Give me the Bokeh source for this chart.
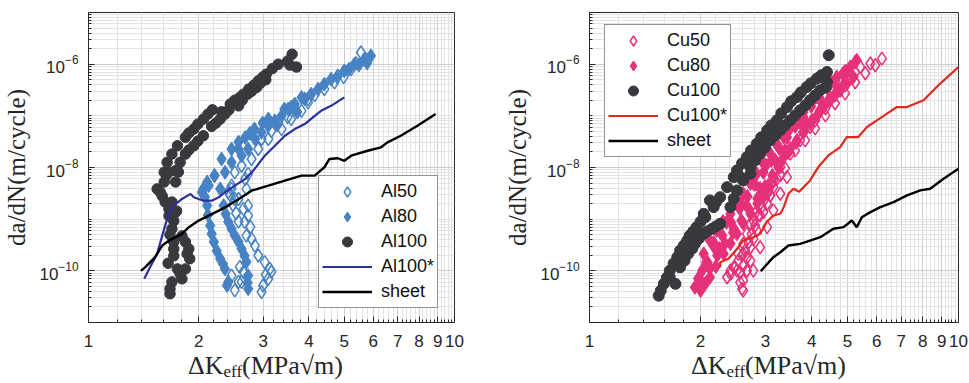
from bokeh.plotting import figure
from bokeh.models import FixedTicker, Legend, LegendItem, Div
from bokeh.layouts import row, column
from bokeh.embed import file_html
from bokeh.resources import INLINE

# ---------------- data : left panel (Al) ----------------
al50_dk = [2.46, 2.57, 2.65, 2.73, 2.67, 2.77, 2.70, 2.79, 2.85, 2.91,
           3.03, 3.13, 3.16, 3.10, 3.05, 3.00, 2.97, 2.46, 2.57, 2.62,
           2.51, 2.59, 2.65, 2.70, 2.73, 2.51, 2.41,
           2.44, 2.48, 2.53, 2.57,
           2.51, 2.62, 2.68, 2.46, 2.73, 2.79,
           2.91, 2.97, 3.10, 3.16, 3.30, 3.37, 3.50, 3.58, 3.66, 3.82,
           3.98, 3.98, 4.15, 4.41, 4.70, 4.80, 4.98, 5.22, 5.38, 5.55, 5.73]
al50_rate = [3.85e-9, 2.46e-9, 1.58e-9, 1.17e-9, 8.85e-10, 7.1e-10, 4.81e-10, 4.15e-10, 3.08e-10, 1.98e-10,
             1.47e-10, 1.09e-10, 9.6e-11, 7.0e-11, 8.4e-11, 5.2e-11, 3.9e-11, 8.1e-11, 6.1e-11, 6.1e-11,
             4.2e-11, 1.19e-10, 9.5e-11, 3.85e-9, 1.83e-9, 2.46e-9, 3.36e-9,
             2.9e-9, 1.9e-9, 1.3e-9, 9.0e-10,
             8.07e-9, 1.08e-8, 6.0e-9, 4.45e-9, 7.5e-9, 1.46e-8,
             2.28e-8, 3.56e-8, 3.56e-8, 5.07e-8, 7.57e-8, 5.55e-8, 9.46e-8, 8.65e-8, 1.35e-7, 1.25e-7,
             1.82e-7, 2.11e-7, 2.51e-7, 3.29e-7, 4.43e-7, 5.94e-7, 5.6e-7, 8.0e-7, 1.05e-6, 1.68e-6, 1.25e-6]

al80_dk = [2.06, 2.08, 2.11, 2.12, 2.15, 2.17, 2.20, 2.24, 2.29, 2.33, 2.36, 2.41, 2.39, 2.11, 2.21,
           2.29, 2.34, 2.37, 2.41, 2.46, 2.51, 2.57, 2.62, 2.67, 2.70, 2.73, 2.72, 2.73,
           2.04, 2.13, 2.21, 2.31, 2.36, 2.46, 2.46, 2.57, 2.57, 2.62, 2.73, 2.68, 2.76,
           2.84, 2.85, 2.97, 2.99, 3.10, 3.10, 3.23, 3.28, 3.37, 3.43,
           3.51, 3.58, 3.66, 3.72, 3.82, 3.90, 4.06, 4.24, 4.41, 4.60,
           4.78, 5.00, 5.15, 5.33, 5.48, 5.67, 5.77, 5.91]
al80_rate = [3.85e-9, 2.69e-9, 1.83e-9, 1.21e-9, 7.5e-10, 5.2e-10, 3.63e-10, 2.43e-10, 1.71e-10, 1.36e-10, 1.09e-10, 6.1e-11, 5.2e-11, 5.25e-9, 7.0e-9,
             3.85e-9, 1.83e-9, 1.26e-9, 8.85e-10, 6.5e-10, 4.81e-10, 3.63e-10, 2.66e-10, 1.95e-10, 1.49e-10, 8.1e-11, 5.9e-11, 4.5e-11,
             3.32e-9, 4.45e-9, 6.95e-9, 1.46e-8, 8.07e-9, 1.26e-8, 2.28e-8, 2.28e-8, 3.11e-8, 1.69e-8, 2.28e-8, 3.8e-8, 4.6e-8,
             5.55e-8, 3.56e-8, 4.79e-8, 7.24e-8, 6.43e-8, 8.65e-8, 8.0e-8, 6.6e-8, 1.0e-7, 1.35e-7,
             1.35e-7, 1.48e-7, 1.69e-7, 1.18e-7, 2.27e-7, 2.11e-7, 2.63e-7, 3.29e-7, 4.11e-7, 5.13e-7,
             5.6e-7, 7.43e-7, 8.0e-7, 1.0e-6, 9.6e-7, 1.25e-6, 1.05e-6, 1.45e-6]

al100_dk = [1.61, 1.64, 1.69, 1.75, 1.84, 1.88, 1.94, 1.99, 2.06, 2.12,
            2.18, 2.31, 2.44, 2.51, 2.59, 2.65, 2.74, 2.83, 2.91, 2.99,
            3.06, 3.18, 3.30, 3.50, 3.60, 3.55, 3.70,
            1.73, 1.78, 1.84, 1.88, 1.94, 1.99, 2.06, 2.17, 2.23, 2.29,
            2.36, 2.42, 2.57, 2.63, 2.72, 2.79, 2.88, 2.95, 3.05,
            1.66, 1.76, 1.63, 1.61, 1.73, 1.57, 1.54, 1.59, 1.62, 1.69,
            1.66, 1.74, 1.66, 1.71, 1.69, 1.67, 1.80, 1.84, 1.71, 1.88,
            1.71, 1.86, 1.71, 1.89, 1.84, 1.75, 1.78, 1.80, 1.69, 1.67,
            1.67, 1.65, 1.72]
al100_rate = [8.1e-9, 1.26e-8, 1.82e-8, 2.64e-8, 3.84e-8, 4.65e-8, 5.55e-8, 6.9e-8, 8.65e-8, 1.08e-7,
              1.31e-7, 1.2e-7, 1.69e-7, 2.01e-7, 2.27e-7, 2.63e-7, 3.29e-7, 3.93e-7, 4.75e-7, 5.6e-7,
              6.41e-7, 8.2e-7, 1.0e-6, 1.15e-6, 1.56e-6, 9.6e-7, 8.8e-7,
              8.7e-9, 1.26e-8, 1.82e-8, 2.18e-8, 2.64e-8, 3.25e-8, 4.12e-8, 6.25e-8, 7.24e-8, 8.65e-8,
              1.08e-7, 1.31e-7, 1.56e-7, 2.01e-7, 2.63e-7, 3.0e-7, 3.55e-7, 4.3e-7, 5.0e-7,
              8.2e-9, 8.2e-9, 7.1e-9, 5.25e-9, 5.25e-9, 3.36e-9, 3.85e-9, 2.81e-9, 2.15e-9, 2.15e-9,
              1.58e-9, 1.44e-9, 1.16e-9, 9.25e-10, 6.5e-10, 5.0e-10, 4.74e-10, 3.63e-10, 3.63e-10, 2.66e-10,
              2.66e-10, 2.13e-10, 1.95e-10, 1.71e-10, 1.09e-10, 1.09e-10, 8.8e-11, 7.0e-11, 6.1e-11, 4.5e-11,
              3.6e-11, 1.4e-10, 1.3e-9]

al100s_dk = [1.42, 1.48, 1.54, 1.59, 1.62, 1.66, 1.71, 1.80, 1.90, 1.94,
             2.06, 2.17, 2.27, 2.36, 2.51, 2.68, 2.82, 3.03, 3.23, 3.44,
             3.66, 3.90, 4.15, 4.32, 4.60, 5.00]
al100s_rate = [7.0e-11, 1.26e-10, 2.13e-10, 4.8e-10, 7.5e-10, 1.36e-9, 1.83e-9, 2.46e-9, 3.08e-9, 2.65e-9,
               2.28e-9, 2.28e-9, 2.65e-9, 3.32e-9, 4.45e-9, 6.0e-9, 8.7e-9, 1.69e-8, 2.64e-8, 4.12e-8,
               5.55e-8, 6.93e-8, 1.0e-7, 1.25e-7, 1.56e-7, 2.27e-7]

al_sheet_dk = [1.39, 1.43, 1.52, 1.59, 1.66, 1.80, 1.88, 2.00, 2.13, 2.27,
               2.41, 2.62, 2.79, 3.10, 3.44, 3.82, 4.15, 4.41, 4.55, 4.80,
               5.00, 5.22, 5.79, 6.30, 6.56, 7.13, 7.92, 8.88]
al_sheet_rate = [1.0e-10, 1.18e-10, 1.84e-10, 3.08e-10, 3.85e-10, 5.2e-10, 7.0e-10, 9.4e-10, 1.17e-9, 1.46e-9,
                 1.83e-9, 2.65e-9, 3.56e-9, 4.45e-9, 5.56e-9, 6.95e-9, 6.95e-9, 1.01e-8, 1.46e-8, 1.51e-8,
                 1.35e-8, 1.69e-8, 2.11e-8, 2.46e-8, 3.07e-8, 4.11e-8, 6.43e-8, 1.08e-7]

# ---------------- data : right panel (Cu) ----------------
cu50_dk = [2.61, 2.59, 2.56, 2.51, 2.41, 2.36, 2.46, 2.53, 2.61, 2.67,
           2.73, 2.81, 2.90, 2.99, 3.12, 3.29,
           2.61, 2.67, 2.73, 2.61, 2.78, 3.03, 3.15, 3.29, 3.50, 3.72,
           3.96, 4.22, 4.49, 4.78, 5.09, 5.42, 5.77, 6.20,
           2.90, 3.09, 3.39, 3.61, 3.84, 4.09, 4.36, 4.63, 4.93, 5.25,
           2.78, 2.90, 3.03, 3.15, 3.29, 3.43,
           2.41, 2.48, 2.56, 2.61, 2.67, 2.53, 2.59, 2.67, 2.64, 2.73,
           2.70, 2.78, 2.75, 2.84, 2.81, 2.87, 2.96, 2.93, 3.03, 2.99,
           3.09, 3.06, 3.15, 3.12, 3.22,
           4.09, 4.36, 4.63, 4.93, 5.25, 5.59, 5.95]
cu50_rate = [4.15e-11, 4.48e-11, 6.0e-11, 1.01e-10, 8.75e-11, 7.5e-11, 1.17e-10, 2.13e-10, 3.33e-10, 5.21e-10,
             8.15e-10, 1.27e-9, 1.99e-9, 3.1e-9, 4.85e-9, 7.03e-9,
             6.49e-11, 1.01e-10, 1.58e-10, 2.13e-10, 9.44e-10, 3.1e-9, 5.62e-9, 1.02e-8, 1.85e-8, 3.35e-8,
             6.07e-8, 1.28e-7, 2.0e-7, 3.12e-7, 5.65e-7, 8.83e-7, 1.03e-6, 1.28e-6,
             1.18e-9, 2.88e-9, 9.6e-9, 2.14e-8, 3.35e-8, 8.18e-8, 1.4e-7, 2.49e-7, 3.9e-7, 6.97e-7,
             1.01e-10, 2.86e-10, 7.0e-10, 1.48e-9, 3.1e-9, 6.52e-9,
             1.01e-10, 1.17e-10, 9.4e-11, 1.27e-10, 1.01e-10, 1.58e-10, 1.98e-10, 1.79e-10, 2.47e-10, 2.86e-10,
             3.58e-10, 4.17e-10, 5.21e-10, 6.04e-10, 7.55e-10, 1.18e-9, 1.37e-9, 1.71e-9, 1.99e-9, 2.48e-9,
             2.88e-9, 3.6e-9, 4.17e-9, 5.21e-9, 6.07e-9,
             5.73e-8, 1.02e-7, 1.75e-7, 2.73e-7, 4.46e-7, 6.67e-7, 9.52e-7]

cu80_dk = [1.93, 2.04, 2.21, 2.41, 2.61, 2.84, 3.09, 3.36, 3.65, 3.96, 4.31, 4.68, 5.09, 5.30,
           2.12, 2.31, 2.51, 2.73, 2.96, 3.15, 3.36, 3.65, 3.96, 4.31, 4.78, 5.19,
           2.02, 2.17, 2.35, 2.56, 2.78, 3.01, 3.25, 3.50, 3.80, 4.11, 4.49, 4.87,
           1.97, 2.09, 2.25, 2.46, 2.66, 2.90, 3.19, 3.39, 3.72, 4.22, 4.66, 5.02,
           2.00, 3.61, 3.88, 3.65, 5.25,
           2.00, 2.07, 2.18, 2.29, 2.42, 2.55, 2.68, 2.81, 2.96, 3.11,
           3.27, 3.43, 3.61, 3.79, 3.99, 4.19, 4.41, 4.63, 4.87,
           2.06, 2.12, 2.22, 2.33, 2.45, 2.58, 2.71, 2.85, 2.99, 3.13,
           3.29, 3.46, 3.63, 3.82, 4.01, 4.22, 4.44, 4.66, 4.93,
           2.12, 2.30, 2.50, 2.73, 2.96, 3.23, 3.50, 3.79, 4.14, 4.49, 4.93,
           2.20, 2.41, 2.61, 2.85, 3.05, 3.25, 3.50, 3.79, 4.14, 4.52, 4.99]
cu80_rate = [4.8e-11, 2.13e-10, 6.04e-10, 1.27e-9, 3.1e-9, 7.59e-9, 1.85e-8, 3.88e-8, 9.48e-8, 2.0e-7, 3.61e-7, 5.65e-7, 8.83e-7, 1.19e-6,
             7.5e-11, 2.13e-10, 5.21e-10, 1.27e-9, 3.1e-9, 6.52e-9, 1.59e-8, 3.35e-8, 7.06e-8, 1.48e-7, 3.12e-7, 5.65e-7,
             1.01e-10, 3.53e-10, 8.63e-10, 2.01e-9, 4.92e-9, 1.1e-8, 2.56e-8, 5.73e-8, 1.17e-7, 2.29e-7, 4.27e-7, 6.67e-7,
             7.1e-11, 1.45e-10, 2.7e-10, 6.6e-10, 1.85e-9, 3.94e-9, 1.37e-8, 2.14e-8, 7.48e-8, 2.0e-7, 3.9e-7, 7.62e-7,
             4.15e-11, 9.48e-8, 7.16e-8, 1.02e-7, 1.1e-6,
             6.49e-11, 1.45e-10, 2.83e-10, 4.83e-10, 8.63e-10, 1.61e-9, 2.75e-9, 4.7e-9, 8.04e-9, 1.37e-8,
             2.34e-8, 3.83e-8, 6.26e-8, 9.77e-8, 1.53e-7, 2.29e-7, 3.41e-7, 4.67e-7, 6.37e-7,
             5.68e-11, 1.11e-10, 1.98e-10, 3.38e-10, 5.52e-10, 9.44e-10, 1.54e-9, 2.52e-9, 4.31e-9, 7.03e-9,
             1.2e-8, 1.96e-8, 3.06e-8, 5.01e-8, 8.18e-8, 1.28e-7, 2.0e-7, 2.85e-7, 4.46e-7,
             3.86e-10, 9.02e-10, 2.01e-9, 4.92e-9, 1.2e-8, 2.68e-8, 5.98e-8, 1.4e-7, 2.73e-7, 4.67e-7, 7.28e-7,
             1.21e-10, 3.38e-10, 8.26e-10, 2.01e-9, 4.5e-9, 1.0e-8, 2.34e-8, 4.79e-8, 1.02e-7, 2.18e-7, 4.27e-7]

cu100_dk = [1.54, 1.56, 1.59, 1.62, 1.65, 1.69, 1.73, 1.76, 1.80, 1.84,
            1.87, 1.91, 1.95, 2.00, 2.06, 2.04, 2.12, 2.17, 2.20, 2.26,
            2.36, 2.46, 2.51, 2.67, 2.74, 2.84, 2.92, 3.03, 3.11, 3.22,
            3.31, 3.43, 3.52, 3.65, 3.74, 3.88, 3.98, 4.13, 4.25, 4.40,
            4.45, 4.40, 2.59,
            1.71, 1.65, 1.76, 1.81, 1.85, 1.90, 1.93, 1.98, 2.04, 2.08,
            2.15, 2.20, 2.26, 2.41, 2.51, 2.56, 2.61, 2.73, 2.73, 2.81,
            2.90, 2.99, 3.09, 3.19, 3.29, 3.39, 3.50, 3.61, 3.72, 3.85,
            3.96, 4.09, 4.22, 4.37, 2.46]
cu100_rate = [3.3e-11, 4.15e-11, 5.6e-11, 7.4e-11, 1.01e-10, 1.39e-10, 1.84e-10, 2.47e-10, 3.09e-10, 3.86e-10,
              4.83e-10, 5.78e-10, 7.0e-10, 9.0e-10, 1.09e-9, 1.27e-9, 2.31e-9, 1.71e-9, 2.11e-9, 2.67e-9,
              4.17e-9, 6.52e-9, 8.8e-9, 1.59e-8, 2.14e-8, 2.89e-8, 3.83e-8, 5.24e-8, 6.55e-8, 8.18e-8,
              1.12e-7, 1.48e-7, 1.91e-7, 2.31e-7, 2.85e-7, 3.61e-7, 4.27e-7, 5.26e-7, 6.1e-7, 7.06e-7,
              1.49e-6, 4.52e-7, 1.2e-8,
              5.6e-11, 7.5e-11, 1.17e-10, 1.58e-10, 2.13e-10, 2.7e-10, 3.33e-10, 4.23e-10, 5.21e-10, 5.78e-10,
              6.52e-10, 7.23e-10, 8.15e-10, 1.71e-9, 3.6e-9, 6.52e-9, 5.62e-9, 7.59e-9, 1.02e-8, 1.37e-8,
              1.85e-8, 2.46e-8, 3.35e-8, 4.19e-8, 5.24e-8, 6.55e-8, 8.18e-8, 1.02e-7, 1.28e-7, 1.6e-7,
              2.0e-7, 2.49e-7, 3.12e-7, 3.56e-7, 2.5e-9]

cu100s_dk = [2.26, 2.26, 2.38, 2.51, 2.61, 2.78, 2.90, 3.03, 3.15, 3.29,
             3.36, 3.46, 3.57, 3.70, 3.96, 4.17, 4.44, 4.78, 4.98, 5.35,
             5.65, 6.01, 6.40, 6.81, 7.25, 8.04, 8.92, 10.0]
cu100s_rate = [1.17e-10, 1.47e-10, 1.71e-10, 2.67e-10, 3.86e-10, 4.48e-10, 5.2e-10, 9.0e-10, 1.18e-9, 1.27e-9,
               1.71e-9, 3.1e-9, 3.88e-9, 3.4e-9, 5.62e-9, 1.02e-8, 1.71e-8, 2.48e-8, 3.88e-8, 3.88e-8,
               6.07e-8, 8.18e-8, 1.1e-7, 1.48e-7, 1.48e-7, 2.0e-7, 4.21e-7, 8.83e-7]

cu_sheet_dk = [2.91, 3.15, 3.29, 3.46, 3.72, 3.96, 4.22, 4.58, 4.88, 5.14,
               5.30, 5.47, 5.77, 6.14, 6.67, 7.25, 7.88, 8.38, 9.11, 10.0]
cu_sheet_rate = [9.8e-11, 1.84e-10, 2.29e-10, 3.09e-10, 3.33e-10, 3.86e-10, 4.48e-10, 6.52e-10, 7.0e-10, 9.44e-10,
                 7.0e-10, 1.09e-9, 1.37e-9, 1.71e-9, 2.14e-9, 2.88e-9, 3.6e-9, 3.88e-9, 6.07e-9, 9.48e-9]

# ---------------- ticks / labels ----------------
x_ticks = [1, 2, 3, 4, 5, 6, 7, 8, 9, 10]
x_minor = [v / 10 for v in range(12, 100, 2) if v % 10 != 0]
y_ticks = [1e-10, 1e-8, 1e-6]
y_minor = [m * 10.0 ** e for e in range(-11, -5) for m in range(1, 10)
           if not (m == 1 and e in (-10, -8, -6))] + [1e-5]
y_title = "da/dN(m/cycle)"
x_title_main, x_title_sub, x_title_unit = "ΔK", "eff", "(MPa√m)"

AXC = "#262626"
AL_BLUE = "#4783c4"
DARK = "#38393e"
AL_LINE = "#2d319e"
CU_PINK = "#e6317a"
CU_RED = "#e2291f"


def make_fig(width, left, right):
    p = figure(width=width, height=355, x_axis_type="log", y_axis_type="log",
               x_range=(1, 10), y_range=(1e-11, 1e-5),
               output_backend="svg", toolbar_location=None,
               min_border_left=left, min_border_right=right,
               min_border_top=12, min_border_bottom=33)
    p.background_fill_color = "white"
    p.border_fill_color = "white"
    p.outline_line_color = AXC
    p.outline_line_width = 1
    xt = FixedTicker(ticks=x_ticks, minor_ticks=x_minor)
    yt = FixedTicker(ticks=y_ticks, minor_ticks=y_minor)
    p.xaxis.ticker = xt
    p.yaxis.ticker = yt
    p.xgrid.ticker = xt
    p.ygrid.ticker = yt
    for g in (p.xgrid, p.ygrid):
        g.grid_line_color = "#cdcdcd"
        g.grid_line_width = 1
        g.minor_grid_line_color = "#e3e3e3"
        g.minor_grid_line_width = 1
    for ax in (p.xaxis, p.yaxis):
        ax.axis_line_color = AXC
        ax.major_tick_line_color = AXC
        ax.minor_tick_line_color = AXC
        ax.major_tick_in = 6
        ax.major_tick_out = 0
        ax.minor_tick_in = 3
        ax.minor_tick_out = 0
        ax.major_label_text_font = "Liberation Sans"
        ax.major_label_text_font_size = "17px"
        ax.major_label_text_color = AXC
    p.xaxis.major_label_standoff = 12
    p.yaxis.major_label_standoff = 10
    p.yaxis.axis_label = y_title
    p.yaxis.axis_label_text_font = "Liberation Serif"
    p.yaxis.axis_label_text_font_size = "25px"
    p.yaxis.axis_label_text_font_style = "normal"
    p.yaxis.axis_label_text_color = AXC
    p.yaxis.axis_label_standoff = 6
    return p


def make_legend(items, loc):
    return Legend(items=items, location=loc, orientation="vertical",
                  label_text_font="Liberation Sans", label_text_font_size="18px",
                  label_text_color="#111111",
                  glyph_width=50, glyph_height=25, label_height=25, spacing=0,
                  padding=3, margin=0, label_standoff=9,
                  border_line_color=AXC, border_line_width=1,
                  background_fill_color="white", background_fill_alpha=1.0)


def xlabel_div(width, left_px):
    html = ('<div style="position:relative;width:%dpx;height:28px;overflow:visible;">'
            '<span style="position:absolute;left:%dpx;top:-2px;white-space:nowrap;'
            "font-family:'Liberation Serif';font-size:26px;line-height:26px;color:%s;\">"
            '%s<span style="font-size:17px;position:relative;top:3px;">%s</span>%s</span></div>'
            % (width, left_px, AXC, x_title_main, x_title_sub, x_title_unit))
    return Div(text=html, width=width, height=28, margin=0)


# ---------------- left panel ----------------
p1 = make_fig(490, 86, 36)
r_a50 = p1.scatter(al50_dk, al50_rate, marker="diamond", size=13,
                   fill_color=None, line_color=AL_BLUE, line_width=1.5)
r_a80 = p1.scatter(al80_dk, al80_rate, marker="diamond", size=14,
                   fill_color=AL_BLUE, line_color=AL_BLUE)
r_a100 = p1.scatter(al100_dk, al100_rate, marker="circle", size=10.5,
                    fill_color=DARK, line_color=DARK)
r_a100s = p1.line(al100s_dk, al100s_rate, line_color=AL_LINE, line_width=2.2)
r_ash = p1.line(al_sheet_dk, al_sheet_rate, line_color="black", line_width=2.4)
p1.add_layout(make_legend([
    LegendItem(label="Al50", renderers=[r_a50]),
    LegendItem(label="Al80", renderers=[r_a80]),
    LegendItem(label="Al100", renderers=[r_a100]),
    LegendItem(label="Al100*", renderers=[r_a100s]),
    LegendItem(label="sheet", renderers=[r_ash]),
], (230, 14)))

# ---------------- right panel ----------------
p2 = make_fig(479, 99, 11)
r_c50 = p2.scatter(cu50_dk, cu50_rate, marker="diamond", size=13,
                   fill_color=None, line_color=CU_PINK, line_width=1.5)
r_c80 = p2.scatter(cu80_dk, cu80_rate, marker="diamond", size=14,
                   fill_color=CU_PINK, line_color=CU_PINK)
r_c100 = p2.scatter(cu100_dk, cu100_rate, marker="circle", size=11,
                    fill_color=DARK, line_color=DARK)
r_c100s = p2.line(cu100s_dk, cu100s_rate, line_color=CU_RED, line_width=2.2)
r_csh = p2.line(cu_sheet_dk, cu_sheet_rate, line_color="black", line_width=2.4)
p2.add_layout(make_legend([
    LegendItem(label="Cu50", renderers=[r_c50]),
    LegendItem(label="Cu80", renderers=[r_c80]),
    LegendItem(label="Cu100", renderers=[r_c100]),
    LegendItem(label="Cu100*", renderers=[r_c100s]),
    LegendItem(label="sheet", renderers=[r_csh]),
], (15, 165)))

layout = column(row(p1, p2), row(xlabel_div(490, 188), xlabel_div(479, 201)))
open("out.html", "w").write(file_html(layout, INLINE))
